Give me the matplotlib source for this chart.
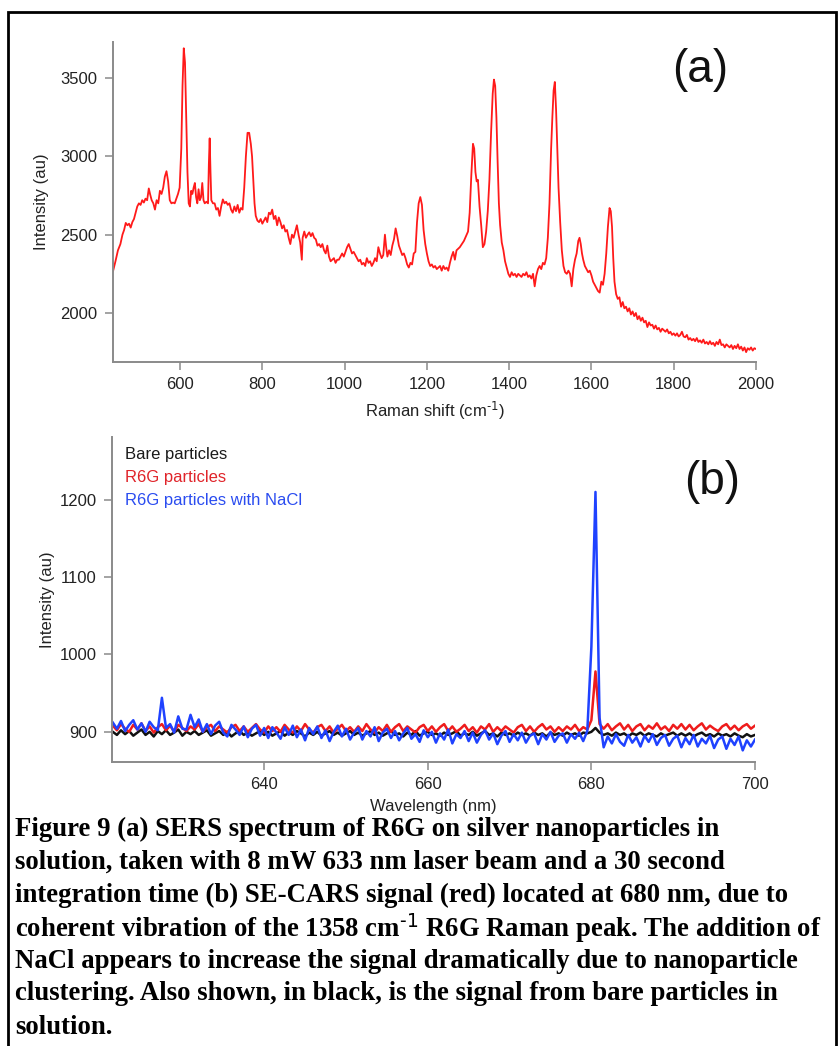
import numpy as np
import matplotlib.pyplot as plt
from matplotlib.patches import Rectangle

plt.rcParams['font.family'] = ['Liberation Sans', 'DejaVu Sans']
plt.rcParams['mathtext.default'] = 'regular'

# ---- panel (a): SERS spectrum of R6G ----
raman_shift = [
    437, 443, 449, 455, 460, 464, 468, 472, 476, 480, 484, 488, 492, 496, 500, 504, 508, 512, 516, 520,
    524, 527, 531, 535, 539, 543, 547, 551, 555, 559, 563, 567, 571, 575, 579, 583, 587, 591, 595, 599,
    603, 606, 609, 612, 615, 618, 621, 624, 627, 630, 633, 636, 639, 642, 645, 648, 651, 654, 657, 660,
    664, 668, 670, 672, 674, 676, 680, 684, 688, 692, 696, 700, 704, 708, 712, 716, 720, 724, 728, 732,
    736, 740, 744, 748, 752, 756, 760, 764, 768, 772, 775, 778, 781, 784, 788, 792, 796, 800, 804, 808,
    812, 816, 820, 824, 828, 832, 836, 840, 844, 848, 852, 856, 860, 864, 868, 872, 876, 880, 884, 888,
    892, 896, 898, 902, 906, 910, 914, 918, 922, 926, 930, 934, 938, 942, 946, 950, 954, 958, 962, 966,
    970, 974, 978, 982, 986, 990, 994, 998, 1002, 1006, 1010, 1014, 1018, 1022, 1026, 1030, 1034, 1038, 1042, 1046,
    1050, 1054, 1058, 1062, 1066, 1070, 1074, 1078, 1082, 1086, 1090, 1094, 1098, 1101, 1104, 1108, 1112, 1116, 1120, 1124,
    1128, 1132, 1136, 1140, 1144, 1148, 1152, 1156, 1160, 1164, 1168, 1172, 1176, 1180, 1184, 1188, 1192, 1196, 1200, 1204,
    1208, 1212, 1216, 1220, 1224, 1228, 1232, 1236, 1240, 1244, 1248, 1252, 1256, 1260, 1264, 1268, 1272, 1276, 1280, 1285,
    1290, 1295, 1300, 1304, 1308, 1312, 1315, 1318, 1321, 1324, 1328, 1332, 1336, 1340, 1344, 1348, 1352, 1356, 1360, 1363,
    1366, 1369, 1372, 1375, 1378, 1382, 1386, 1390, 1394, 1398, 1402, 1406, 1410, 1414, 1418, 1422, 1426, 1430, 1434, 1438,
    1442, 1446, 1450, 1454, 1458, 1462, 1466, 1470, 1474, 1478, 1482, 1486, 1490, 1494, 1498, 1502, 1505, 1508, 1511, 1514,
    1517, 1520, 1524, 1528, 1532, 1536, 1540, 1544, 1548, 1552, 1556, 1560, 1564, 1568, 1571, 1574, 1577, 1580, 1584, 1588,
    1592, 1596, 1600, 1604, 1608, 1612, 1616, 1620, 1624, 1628, 1632, 1636, 1640, 1644, 1647, 1650, 1653, 1656, 1660, 1664,
    1668, 1672, 1676, 1680, 1684, 1688, 1692, 1696, 1700, 1704, 1708, 1712, 1716, 1720, 1724, 1728, 1732, 1736, 1740, 1744,
    1748, 1752, 1756, 1760, 1764, 1768, 1772, 1776, 1780, 1784, 1788, 1792, 1796, 1800, 1804, 1808, 1812, 1816, 1820, 1824,
    1828, 1832, 1836, 1840, 1844, 1848, 1852, 1856, 1860, 1864, 1868, 1872, 1876, 1880, 1884, 1888, 1892, 1896, 1900, 1904,
    1908, 1912, 1916, 1920, 1924, 1928, 1932, 1936, 1940, 1944, 1948, 1952, 1956, 1960, 1964, 1968, 1972, 1976, 1980, 1984,
    1988, 1992, 1996, 2000,
]
sers_intensity = [
    2266, 2330, 2400, 2440, 2500, 2530, 2575, 2560, 2570, 2545, 2580, 2600, 2640, 2680, 2700, 2690, 2720, 2705, 2730, 2720,
    2795, 2760, 2720, 2700, 2660, 2720, 2700, 2780, 2760, 2800, 2870, 2905, 2840, 2720, 2700, 2705, 2700, 2730, 2760, 2800,
    3050, 3450, 3690, 3600, 3250, 2900, 2700, 2680, 2780, 2760, 2800, 2830, 2740, 2700, 2790, 2720, 2740, 2830, 2720, 2700,
    2710, 2700, 2950, 3115, 2900, 2720, 2700, 2700, 2660, 2670, 2620, 2680, 2725, 2700, 2710, 2690, 2700, 2660, 2640, 2680,
    2650, 2690, 2640, 2670, 2660, 2800, 3000, 3150, 3150, 3080, 3000, 2850, 2700, 2620, 2590, 2580, 2600, 2570, 2590, 2610,
    2580, 2640, 2630, 2660, 2600, 2620, 2560, 2610, 2580, 2540, 2560, 2520, 2530, 2480, 2440, 2500, 2480, 2520, 2560, 2500,
    2450, 2340, 2480, 2520, 2480, 2500, 2515, 2490, 2510, 2480, 2470, 2430, 2440, 2420, 2440, 2400, 2380, 2430, 2360, 2330,
    2340, 2350, 2320, 2340, 2340, 2360, 2380, 2360, 2390, 2420, 2440, 2410, 2380, 2390, 2370, 2350, 2330, 2340, 2310, 2320,
    2300, 2350, 2320, 2330, 2300, 2320, 2350, 2330, 2420, 2380, 2350, 2370, 2500, 2420, 2360, 2400, 2370, 2430, 2470, 2540,
    2490, 2430, 2400, 2370, 2380, 2350, 2310, 2290, 2320, 2310, 2380, 2390, 2580, 2700, 2740, 2690, 2530, 2440, 2380, 2330,
    2300, 2310, 2290, 2300, 2280, 2290, 2300, 2270, 2300, 2280, 2290, 2270, 2320, 2360, 2390, 2340, 2400, 2410, 2420, 2440,
    2460, 2490, 2520, 2640, 2880, 3080, 3050, 2900, 2840, 2850, 2680, 2560, 2420, 2440, 2520, 2650, 2850, 3150, 3400, 3490,
    3450, 3250, 2960, 2700, 2560, 2450, 2400, 2330, 2290, 2250, 2230, 2260, 2240, 2250, 2230, 2250, 2240, 2230, 2250, 2240,
    2260, 2230, 2240, 2220, 2250, 2170, 2240, 2280, 2300, 2280, 2320, 2310, 2350, 2480, 2700, 3050, 3250, 3420, 3475, 3300,
    3050, 2800, 2580, 2400, 2300, 2260, 2250, 2270, 2250, 2170, 2280, 2340, 2380, 2460, 2480, 2440, 2380, 2340, 2300, 2280,
    2260, 2270, 2240, 2200, 2180, 2160, 2140, 2130, 2200, 2180, 2250, 2380, 2550, 2670, 2650, 2550, 2350, 2200, 2120, 2090,
    2100, 2040, 2070, 2030, 2040, 2010, 2030, 1990, 2010, 1980, 2000, 1960, 1980, 1950, 1970, 1940, 1950, 1910, 1940, 1920,
    1925, 1900, 1920, 1895, 1905, 1880, 1900, 1890, 1880, 1895, 1870, 1880, 1860, 1870, 1855, 1870, 1850, 1860, 1880, 1850,
    1845, 1860, 1830, 1840, 1825, 1835, 1820, 1840, 1815, 1825, 1810, 1830, 1805, 1815, 1800, 1820, 1800, 1810, 1790, 1815,
    1800, 1830, 1795, 1800, 1780, 1800, 1790, 1780, 1795, 1770, 1790, 1775, 1800, 1770, 1785, 1760, 1780, 1750, 1775, 1765,
    1780, 1760, 1775, 1770,
]

# ---- panel (b): SE-CARS signal, sampled every 0.5 nm ----
wavelength = np.arange(621.5, 700.01, 0.5)
bare = [
    900, 896, 902, 897, 901, 895, 899, 903, 896, 900, 894, 901, 897, 902, 896, 899, 903, 895, 900, 897,
    901, 896, 899, 902, 895, 898, 901, 896, 900, 894, 898, 901, 896, 899, 895, 898, 901, 896, 900, 895,
    898, 901, 895, 899, 896, 901, 898, 894, 899, 896, 900, 895, 898, 901, 896, 899, 895, 898, 901, 896,
    899, 895, 898, 901, 896, 899, 895, 898, 901, 896, 898, 894, 899, 896, 901, 895, 898, 900, 896, 898,
    895, 899, 896, 898, 901, 895, 898, 896, 900, 895, 898, 901, 896, 898, 894, 899, 896, 898, 895, 899,
    896, 898, 895, 899, 896, 898, 894, 899, 896, 898, 895, 899, 896, 898, 895, 899, 898, 900, 905, 899,
    896, 898, 895, 899, 896, 898, 894, 898, 896, 899, 895, 898, 896, 894, 898, 895, 897, 899, 895, 898,
    895, 898, 894, 897, 899, 895, 897, 894, 898, 895, 897, 894, 898, 895, 893, 897, 894, 896,
]
r6g = [
    908, 902, 910, 904, 900, 909, 903, 911, 901, 907, 899, 906, 910, 902, 908, 900, 909, 905, 901, 907,
    903, 910, 900, 906, 909, 901, 907, 903, 899, 906, 909, 901, 907, 900, 905, 910, 903, 899, 907, 901,
    906, 900, 909, 903, 899, 907, 901, 910, 903, 899, 906, 909, 901, 907, 899, 904, 909, 901, 906, 900,
    907, 901, 910, 903, 899, 906, 901, 909, 900, 906, 910, 901, 907, 903, 899, 906, 909, 901, 907, 900,
    906, 910, 901, 907, 900, 904, 909, 901, 906, 899, 907, 903, 910, 900, 906, 901, 907, 903, 899, 906,
    909, 901, 907, 900, 906, 910, 903, 907, 900, 906, 901, 907, 903, 909, 901, 906, 903, 915, 978, 910,
    904, 910, 902, 907, 911, 903, 909, 901, 907, 910, 902, 908, 904, 911, 903, 907, 901, 909, 904, 910,
    903, 909, 902, 907, 911, 903, 908, 904, 901, 907, 910, 903, 908, 902, 907, 910, 904, 908,
]
r6g_nacl = [
    912, 904, 914, 901, 909, 915, 903, 911, 900, 913, 906, 902, 944, 905, 910, 899, 920, 904, 903, 922,
    906, 916, 900, 910, 897, 908, 913, 899, 894, 909, 903, 896, 907, 893, 904, 909, 895, 905, 892, 906,
    899, 891, 906, 896, 908, 893, 903, 889, 905, 897, 907, 892, 902, 888, 900, 908, 894, 904, 890, 899,
    905, 890, 901, 894, 906, 888, 899, 904, 892, 901, 889, 898, 905, 891, 897, 887, 902, 893, 900, 886,
    898, 890, 903, 885, 897, 892, 901, 888, 899, 886, 896, 902, 890, 898, 884, 895, 901, 887, 897, 889,
    899, 886, 895, 898, 884, 897, 890, 900, 887, 895, 898, 886, 897, 891, 899, 888, 901, 1010, 1210, 918,
    880, 894, 885, 897, 887, 882, 896, 886, 893, 881, 895, 887, 897, 883, 892, 896, 882, 891, 895, 880,
    892, 884, 896, 881, 891, 885, 895, 879, 890, 894, 878, 891, 883, 894, 876, 889, 881, 890,
]
legend_labels = ['Bare particles', 'R6G particles', 'R6G particles with NaCl']
legend_colors = ['#1a1a1a', '#e0242a', '#2a4cf0']

fig = plt.figure(figsize=(8.38, 10.46), dpi=100)
W, H = 838, 1046


def style(ax):
    for s in ['top', 'right']:
        ax.spines[s].set_visible(False)
    for s in ['left', 'bottom']:
        ax.spines[s].set_color('#8a8a8a')
        ax.spines[s].set_linewidth(1.4)
    ax.tick_params(direction='out', length=6, width=1.1, color='#8a8a8a',
                   labelsize=12, labelcolor='#222222', pad=5)


ax1 = fig.add_axes([113 / W, 1 - 362 / H, (756 - 113) / W, (362 - 42) / H])
ax1.plot(raman_shift, sers_intensity, color='#ff1a1a', lw=1.3)
ax1.set_xlim(437, 2000)
ax1.set_ylim(1687, 3730)
ax1.set_xticks(range(600, 2001, 200))
ax1.set_yticks(range(2000, 3501, 500))
style(ax1)
ax1.set_xlabel(r'Raman shift (cm$^{\text{-1}}$)', fontsize=12, color='#222222', labelpad=5)
ax1.set_ylabel('Intensity (au)', fontsize=12, color='#222222', labelpad=8)
fig.text(700 / W, 1 - 70 / H, '(a)', fontsize=33, ha='center', va='center', color='#111111')

ax2 = fig.add_axes([112 / W, 1 - 762 / H, (755 - 112) / W, (762 - 437) / H])
ax2.plot(wavelength, bare, color='#111111', lw=1.8)
ax2.plot(wavelength, r6g, color='#ee1c1c', lw=1.8)
ax2.plot(wavelength, r6g_nacl, color='#1f42ff', lw=1.8)
ax2.set_xlim(621.4, 700)
ax2.set_ylim(861, 1281)
ax2.set_xticks([640, 660, 680, 700])
ax2.set_yticks([900, 1000, 1100, 1200])
style(ax2)
ax2.set_xlabel('Wavelength (nm)', fontsize=12, color='#222222', labelpad=5)
ax2.set_ylabel('Intensity (au)', fontsize=12, color='#222222', labelpad=3)
for i, (lab, col) in enumerate(zip(legend_labels, legend_colors)):
    fig.text(125 / W, 1 - (455 + 22.5 * i) / H, lab, fontsize=12, color=col, va='center')
fig.text(712 / W, 1 - 482 / H, '(b)', fontsize=33, ha='center', va='center', color='#111111')

caption = [
    'Figure 9 (a) SERS spectrum of R6G on silver nanoparticles in',
    'solution, taken with 8 mW 633 nm laser beam and a 30 second',
    'integration time (b) SE-CARS signal (red) located at 680 nm, due to',
    r'coherent vibration of the 1358 cm$^{\text{-1}}$ R6G Raman peak. The addition of',
    'NaCl appears to increase the signal dramatically due to nanoparticle',
    'clustering. Also shown, in black, is the signal from bare particles in',
    'solution.',
]
for i, line in enumerate(caption):
    fig.text(15 / W, 1 - (829 + 33 * i) / H, line, fontsize=19.3, fontweight='bold',
             family=['Liberation Serif'], va='center', ha='left', color='black')

fig.add_artist(Rectangle((8 / W, -0.05), (836 - 8) / W, 1 - 12 / H + 0.05,
                         transform=fig.transFigure, fill=False, lw=2, ec='black', clip_on=False))

fig.savefig('out.png', dpi=100)
